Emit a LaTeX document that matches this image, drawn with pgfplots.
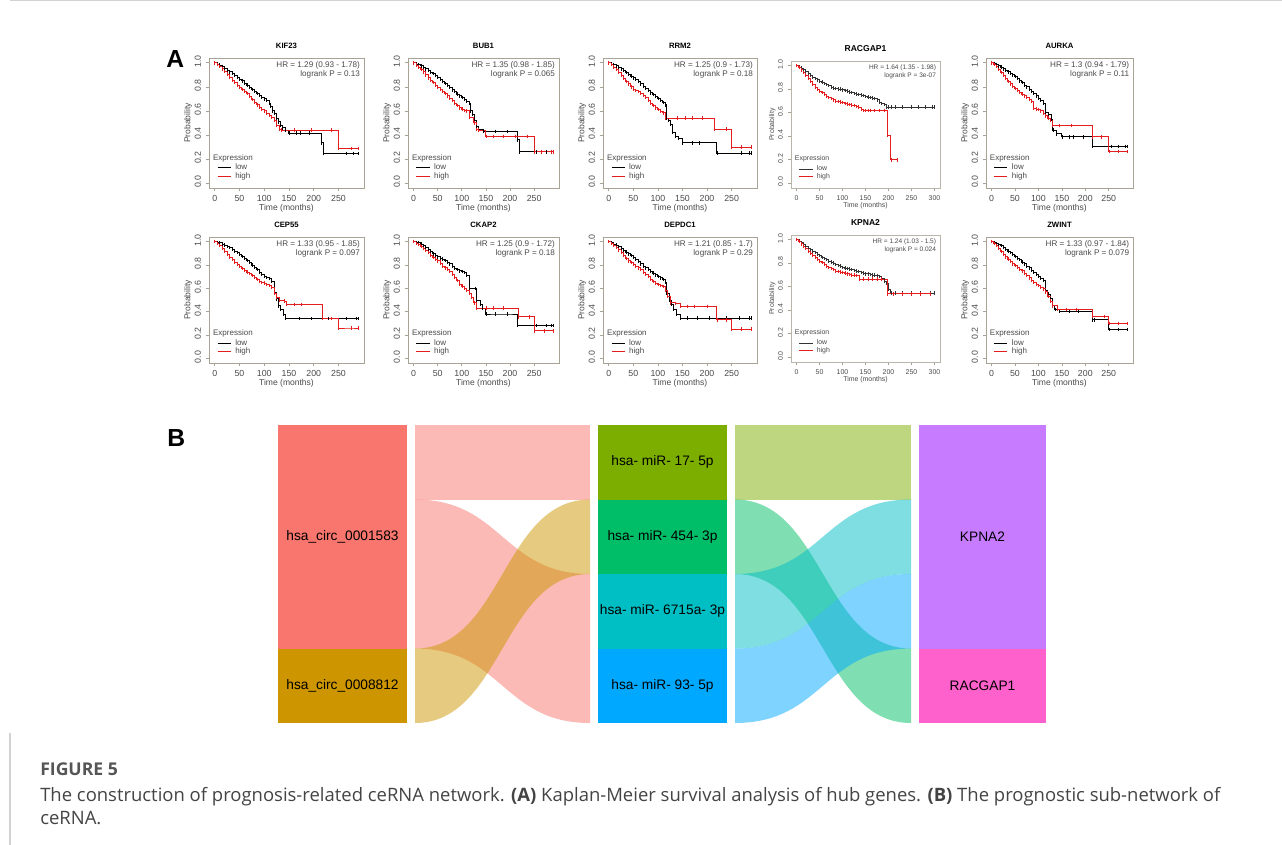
\documentclass[border=0pt]{standalone}
\usepackage{fontspec}
\setmainfont{Liberation Sans}
\newfontfamily\capfont{Open Sans}
\usepackage{pgfplots}
\pgfplotsset{compat=1.18}
\definecolor{cA}{HTML}{F8766D}
\definecolor{cB}{HTML}{CD9600}
\definecolor{cC}{HTML}{7CAE00}
\definecolor{cD}{HTML}{00BE67}
\definecolor{cE}{HTML}{00BFC4}
\definecolor{cF}{HTML}{00A9FF}
\definecolor{cG}{HTML}{C77CFF}
\definecolor{cH}{HTML}{FF61CC}
\definecolor{kmbox}{HTML}{A8A395}
\definecolor{kmtxt}{HTML}{4A4A4A}
\definecolor{kmred}{HTML}{E41E1E}
\definecolor{captxt}{HTML}{444444}
\definecolor{capgray}{HTML}{555555}
\newcommand{\kmtick}{\fontsize{6.6}{7}\selectfont}
\newcommand{\kmlab}{\fontsize{6.4}{7}\selectfont}
\newcommand{\kmleg}{\fontsize{6}{6.5}\selectfont}
\newcommand{\kmhr}{\fontsize{6.1}{7}\selectfont}
\newcommand{\kmtitle}{\fontsize{5.8}{6}\selectfont\bfseries}
\newcommand{\kmtickS}{\fontsize{5.2}{6}\selectfont}
\newcommand{\kmlabS}{\fontsize{5.2}{6}\selectfont}
\newcommand{\kmlegS}{\fontsize{5.2}{6}\selectfont}
\newcommand{\kmhrS}{\fontsize{4.9}{6}\selectfont}
\newcommand{\kmtitleS}{\fontsize{6.4}{7}\selectfont\bfseries}
\newcommand{\sank}{\fontsize{10.3}{12}\selectfont}
\pgfplotsset{
  km/.style={
    scale only axis, anchor=north west,
    xmin=-11.6, xmax=301.6, ymin=-0.04, ymax=1.04,
    xtick={0,50,100,150,200,250}, ytick={0,0.2,0.4,0.6,0.8,1},
    axis line style={kmbox, line width=0.6pt},
    tick align=outside, xtick pos=bottom, ytick pos=left,
    major tick length=2.5pt, tick style={kmbox, line width=0.5pt},
    /pgf/number format/assume math mode=true,
    ticklabel style={font=\kmtick, text=kmtxt},
    yticklabel style={/pgf/number format/.cd, fixed, fixed zerofill, precision=1, /tikz/.cd, rotate=90, anchor=south, xshift=1pt},
    xticklabel style={yshift=0.5pt},
    xlabel={Time (months)}, ylabel={Probability},
    label style={font=\kmlab, text=kmtxt},
    xlabel style={yshift=5pt},
    ylabel style={yshift=-5pt},
    title style={font=\kmtitle, yshift=-2.5pt},
    legend style={draw=none, fill=none, at={(0.05,0.055)}, anchor=south west, font=\kmleg, text=kmtxt, row sep=-0.5pt, inner sep=0pt, nodes={inner sep=0.4pt}},
    legend cell align=left,
    legend image code/.code={\draw[##1, line width=0.8pt] (0pt,0pt) -- (10pt,0pt); \path (12.5pt,0pt);},
    clip=false,
  },
  km300/.style={km, xmin=-12, xmax=312, xtick={0,50,100,150,200,250,300},
    axis line style={kmbox!80, line width=0.5pt},
    ticklabel style={font=\kmtickS}, label style={font=\kmlabS},
    title style={font=\kmtitleS}, legend style={font=\kmlegS}},
  lowline/.style={const plot, black, line width=0.75pt, mark=|, mark size=1.3pt, mark options={solid, line width=0.4pt}},
  highline/.style={const plot, kmred, line width=0.75pt, mark=|, mark size=1.3pt, mark options={solid, line width=0.4pt}},
  lowlineS/.style={lowline, line width=0.5pt, black!80},
  highlineS/.style={highline, line width=0.5pt},
}
\newcommand{\hr}[2]{\node[anchor=north east, align=right, font=\kmhr, text=kmtxt, inner sep=0pt] at (rel axis cs:0.975,0.975) {#1\\#2};}
\newcommand{\hrS}[2]{\node[anchor=north east, align=right, font=\kmhrS, text=kmtxt, inner sep=0pt] at (rel axis cs:0.975,0.975) {#1\\#2};}
\newcommand{\expr}{\node[anchor=south west, font=\kmleg, text=kmtxt, inner sep=0pt] at (rel axis cs:0.025,0.2) {Expression};}
\newcommand{\exprS}{\node[anchor=south west, font=\kmlegS, text=kmtxt, inner sep=0pt] at (rel axis cs:0.025,0.2) {Expression};}
\begin{document}
\begin{tikzpicture}[x=0.75pt, y=-0.75pt]
\useasboundingbox (0,0) rectangle (1282,845);
\fill[white] (0,0) rectangle (1282,845);
\draw[gray!35, line width=0.8pt] (10,0.6) -- (1282,0.6);
\draw[gray!35, line width=0.8pt] (10,733) -- (10,845);
\node[anchor=base west, inner sep=0, font=\fontsize{18.5}{20}\selectfont\bfseries] at (166,68) {A};
\node[anchor=base west, inner sep=0, font=\fontsize{18.5}{20}\selectfont\bfseries] at (167,446) {B};

% ---------------- Row 1 ----------------
\begin{axis}[km, at={(156.75pt,-43.5pt)}, width=116.25pt, height=97.5pt, title={KIF23}]
\addplot[lowline] coordinates {(0,1)(5,0.99)(10,0.98)(15,0.97)(20,0.955)(25,0.94)(30,0.925)(35,0.91)(40,0.895)(45,0.88)(50,0.865)(55,0.85)(60,0.83)(65,0.815)(70,0.795)(75,0.78)(80,0.76)(85,0.745)(90,0.73)(95,0.715)(100,0.70)(105,0.685)(110,0.665)(113,0.64)(116,0.60)(120,0.58)(124,0.54)(128,0.51)(132,0.48)(136,0.46)(142,0.44)(150,0.415)(165,0.415)(172,0.415)(190,0.415)(215,0.335)(220,0.245)(265,0.245)(280,0.245)(290,0.245)};
\addlegendentry{low}
\addplot[highline] coordinates {(0,1)(5,0.985)(10,0.97)(15,0.95)(20,0.93)(25,0.905)(30,0.88)(35,0.855)(40,0.835)(45,0.815)(50,0.795)(55,0.78)(60,0.765)(65,0.745)(70,0.72)(75,0.695)(80,0.67)(85,0.65)(90,0.63)(95,0.615)(100,0.60)(105,0.58)(110,0.565)(115,0.545)(120,0.52)(125,0.48)(130,0.445)(135,0.44)(160,0.44)(195,0.44)(235,0.44)(250,0.29)(275,0.29)(290,0.29)};
\addlegendentry{high}
\hr{HR = 1.29 (0.93 - 1.78)}{logrank P = 0.13}
\expr
\end{axis}

\begin{axis}[km, at={(306pt,-43.5pt)}, width=113.25pt, height=97.5pt, title={BUB1}]
\addplot[lowline] coordinates {(0,1)(5,0.99)(10,0.985)(15,0.975)(20,0.96)(25,0.95)(30,0.935)(35,0.92)(40,0.91)(45,0.895)(50,0.88)(55,0.865)(60,0.845)(65,0.83)(70,0.81)(75,0.795)(80,0.775)(85,0.76)(90,0.74)(95,0.725)(100,0.71)(105,0.695)(110,0.68)(115,0.66)(118,0.60)(122,0.57)(126,0.52)(130,0.47)(135,0.445)(145,0.43)(170,0.43)(195,0.43)(215,0.36)(220,0.26)(255,0.26)(275,0.26)(290,0.26)};
\addlegendentry{low}
\addplot[highline] coordinates {(0,1)(5,0.98)(10,0.965)(15,0.945)(20,0.925)(25,0.90)(30,0.875)(35,0.855)(40,0.835)(45,0.815)(50,0.795)(55,0.78)(60,0.765)(65,0.745)(70,0.725)(75,0.705)(80,0.685)(85,0.665)(90,0.645)(95,0.625)(100,0.615)(105,0.605)(110,0.60)(115,0.545)(125,0.50)(130,0.445)(135,0.44)(150,0.39)(165,0.39)(185,0.39)(210,0.39)(235,0.39)(250,0.26)(265,0.26)(285,0.26)(290,0.26)};
\addlegendentry{high}
\hr{HR = 1.35 (0.98 - 1.85)}{logrank P = 0.065}
\expr
\end{axis}

\begin{axis}[km, at={(452.25pt,-43.5pt)}, width=115.5pt, height=97.5pt, title={RRM2}]
\addplot[lowline] coordinates {(0,1)(5,0.99)(10,0.985)(15,0.975)(20,0.96)(25,0.95)(30,0.935)(35,0.92)(40,0.905)(45,0.89)(50,0.875)(55,0.86)(60,0.845)(65,0.825)(70,0.805)(75,0.79)(80,0.77)(85,0.75)(90,0.735)(95,0.72)(100,0.705)(105,0.69)(110,0.67)(115,0.65)(117,0.54)(122,0.52)(126,0.49)(130,0.42)(135,0.39)(142,0.37)(150,0.335)(170,0.335)(185,0.335)(220,0.25)(270,0.25)(285,0.25)(290,0.25)};
\addlegendentry{low}
\addplot[highline] coordinates {(0,1)(5,0.985)(10,0.965)(15,0.945)(20,0.92)(25,0.895)(30,0.87)(35,0.845)(40,0.825)(45,0.80)(50,0.78)(55,0.77)(60,0.76)(65,0.745)(70,0.73)(75,0.715)(80,0.69)(85,0.665)(90,0.645)(95,0.625)(100,0.61)(105,0.595)(110,0.585)(115,0.54)(140,0.54)(155,0.54)(170,0.54)(190,0.54)(215,0.45)(240,0.45)(250,0.30)(270,0.30)(290,0.30)};
\addlegendentry{high}
\hr{HR = 1.25 (0.9 - 1.73)}{logrank P = 0.18}
\expr
\end{axis}

\begin{axis}[km300, at={(593.25pt,-45.75pt)}, width=111.75pt, height=95.25pt, title={RACGAP1}]
\addplot[lowlineS] coordinates {(0,1)(5,0.99)(10,0.98)(15,0.965)(20,0.95)(25,0.935)(30,0.92)(35,0.905)(40,0.89)(45,0.88)(50,0.87)(55,0.86)(60,0.85)(65,0.84)(70,0.83)(75,0.82)(80,0.81)(85,0.805)(90,0.80)(95,0.80)(100,0.795)(105,0.79)(110,0.785)(115,0.775)(120,0.77)(125,0.765)(130,0.76)(135,0.755)(140,0.75)(145,0.745)(150,0.74)(155,0.735)(160,0.73)(165,0.725)(170,0.72)(175,0.71)(180,0.69)(185,0.68)(190,0.67)(195,0.65)(200,0.65)(205,0.65)(215,0.65)(230,0.65)(250,0.65)(265,0.65)(280,0.65)(295,0.65)(300,0.65)};
\addlegendentry{low}
\addplot[highlineS] coordinates {(0,1)(5,0.985)(10,0.965)(15,0.94)(20,0.915)(25,0.89)(30,0.865)(35,0.84)(40,0.815)(45,0.80)(50,0.785)(55,0.77)(60,0.755)(65,0.74)(70,0.73)(75,0.72)(80,0.71)(85,0.70)(90,0.695)(95,0.69)(100,0.685)(105,0.68)(110,0.675)(115,0.67)(120,0.665)(125,0.66)(130,0.655)(135,0.65)(140,0.63)(145,0.62)(150,0.62)(155,0.62)(160,0.62)(170,0.62)(180,0.62)(190,0.62)(197,0.41)(205,0.20)(218,0.20)};
\addlegendentry{high}
\hrS{HR = 1.64 (1.35 - 1.98)}{logrank P = 3e-07}
\exprS
\end{axis}

\begin{axis}[km, at={(739.5pt,-43.5pt)}, width=110.25pt, height=97.5pt, title={AURKA}]
\addplot[lowline] coordinates {(0,1)(5,0.995)(10,0.985)(15,0.975)(20,0.965)(25,0.95)(30,0.94)(35,0.925)(40,0.91)(45,0.90)(50,0.885)(55,0.87)(60,0.85)(65,0.835)(70,0.815)(75,0.80)(80,0.78)(85,0.765)(90,0.745)(95,0.725)(100,0.705)(105,0.685)(110,0.665)(115,0.59)(122,0.57)(127,0.53)(131,0.44)(138,0.41)(150,0.385)(165,0.385)(175,0.385)(195,0.385)(215,0.305)(255,0.305)(270,0.305)(285,0.305)(290,0.305)};
\addlegendentry{low}
\addplot[highline] coordinates {(0,1)(5,0.985)(10,0.97)(15,0.945)(20,0.92)(25,0.895)(30,0.87)(35,0.845)(40,0.825)(45,0.805)(50,0.785)(55,0.77)(60,0.755)(65,0.74)(70,0.725)(75,0.71)(80,0.695)(85,0.68)(90,0.62)(95,0.615)(100,0.61)(105,0.60)(110,0.58)(115,0.56)(120,0.54)(125,0.52)(130,0.48)(145,0.48)(170,0.48)(215,0.385)(235,0.385)(250,0.265)(270,0.265)(290,0.265)};
\addlegendentry{high}
\hr{HR = 1.3 (0.94 - 1.79)}{logrank P = 0.11}
\expr
\end{axis}

% ---------------- Row 2 ----------------
\begin{axis}[km, at={(156.75pt,-177.75pt)}, width=116.25pt, height=94.5pt, title={CEP55}]
\addplot[lowline] coordinates {(0,1)(5,0.995)(10,0.99)(15,0.98)(20,0.97)(25,0.96)(30,0.95)(35,0.935)(40,0.92)(45,0.905)(50,0.89)(55,0.875)(60,0.86)(65,0.84)(70,0.82)(75,0.80)(80,0.78)(85,0.76)(90,0.74)(95,0.72)(100,0.705)(105,0.695)(110,0.685)(115,0.66)(120,0.565)(124,0.51)(128,0.45)(133,0.42)(138,0.38)(143,0.34)(170,0.34)(195,0.34)(230,0.34)(265,0.34)(285,0.34)(290,0.34)};
\addlegendentry{low}
\addplot[highline] coordinates {(0,1)(5,0.985)(10,0.965)(15,0.94)(20,0.915)(25,0.89)(30,0.865)(35,0.845)(40,0.825)(45,0.805)(50,0.785)(55,0.77)(60,0.755)(65,0.74)(70,0.725)(75,0.71)(80,0.695)(85,0.675)(90,0.66)(95,0.65)(100,0.645)(105,0.635)(110,0.625)(115,0.61)(120,0.56)(125,0.52)(130,0.50)(140,0.49)(145,0.46)(160,0.46)(175,0.46)(218,0.34)(235,0.34)(250,0.26)(275,0.26)(290,0.26)};
\addlegendentry{high}
\hr{HR = 1.33 (0.95 - 1.85)}{logrank P = 0.097}
\expr
\end{axis}

\begin{axis}[km, at={(306pt,-177.75pt)}, width=113.25pt, height=94.5pt, title={CKAP2}]
\addplot[lowline] coordinates {(0,1)(5,0.995)(10,0.99)(15,0.98)(20,0.965)(25,0.95)(30,0.935)(35,0.915)(40,0.895)(45,0.88)(50,0.87)(55,0.86)(60,0.85)(65,0.84)(70,0.825)(75,0.81)(80,0.785)(85,0.77)(90,0.76)(95,0.75)(100,0.745)(105,0.735)(110,0.71)(115,0.60)(127,0.60)(130,0.50)(138,0.46)(143,0.43)(150,0.38)(170,0.38)(195,0.38)(215,0.28)(255,0.28)(275,0.28)(285,0.28)(290,0.28)};
\addlegendentry{low}
\addplot[highline] coordinates {(0,1)(5,0.985)(10,0.975)(15,0.96)(20,0.94)(25,0.925)(30,0.905)(35,0.885)(40,0.865)(45,0.85)(50,0.835)(55,0.815)(60,0.79)(65,0.775)(70,0.76)(75,0.745)(80,0.72)(85,0.695)(90,0.665)(95,0.635)(100,0.62)(105,0.60)(110,0.585)(115,0.56)(120,0.52)(125,0.475)(130,0.43)(150,0.43)(165,0.43)(185,0.43)(218,0.355)(240,0.355)(250,0.235)(270,0.235)(290,0.235)};
\addlegendentry{high}
\hr{HR = 1.25 (0.9 - 1.72)}{logrank P = 0.18}
\expr
\end{axis}

\begin{axis}[km, at={(452.25pt,-177.75pt)}, width=115.5pt, height=94.5pt, title={DEPDC1}]
\addplot[lowline] coordinates {(0,1)(5,0.99)(10,0.98)(15,0.97)(20,0.955)(25,0.94)(30,0.925)(35,0.91)(40,0.895)(45,0.88)(50,0.865)(55,0.85)(60,0.83)(65,0.81)(70,0.79)(75,0.775)(80,0.76)(85,0.745)(90,0.73)(95,0.715)(100,0.70)(105,0.69)(110,0.675)(115,0.65)(118,0.56)(123,0.50)(127,0.46)(131,0.42)(138,0.38)(145,0.345)(160,0.345)(180,0.345)(205,0.345)(240,0.345)(265,0.345)(285,0.345)(290,0.345)};
\addlegendentry{low}
\addplot[highline] coordinates {(0,1)(5,0.985)(10,0.97)(15,0.95)(20,0.93)(25,0.905)(30,0.88)(35,0.855)(40,0.835)(45,0.82)(50,0.805)(55,0.79)(60,0.775)(65,0.76)(70,0.74)(75,0.72)(80,0.70)(85,0.68)(90,0.66)(95,0.645)(100,0.635)(105,0.625)(110,0.615)(115,0.58)(120,0.53)(125,0.475)(135,0.47)(145,0.445)(160,0.445)(175,0.445)(200,0.445)(220,0.33)(240,0.33)(250,0.25)(270,0.25)(290,0.25)};
\addlegendentry{high}
\hr{HR = 1.21 (0.85 - 1.7)}{logrank P = 0.29}
\expr
\end{axis}

\begin{axis}[km300, at={(593.25pt,-176.25pt)}, width=111.75pt, height=95.25pt, title={KPNA2}]
\addplot[lowlineS] coordinates {(0,1)(5,0.99)(10,0.975)(15,0.96)(20,0.945)(25,0.93)(30,0.915)(35,0.90)(40,0.89)(45,0.875)(50,0.865)(55,0.85)(60,0.84)(65,0.83)(70,0.82)(75,0.81)(80,0.80)(85,0.79)(90,0.78)(95,0.775)(100,0.765)(105,0.76)(110,0.755)(115,0.75)(120,0.745)(125,0.74)(130,0.735)(135,0.73)(140,0.72)(145,0.715)(150,0.71)(155,0.71)(160,0.705)(165,0.70)(170,0.70)(175,0.695)(180,0.685)(185,0.67)(190,0.65)(195,0.63)(200,0.58)(205,0.545)(215,0.545)(230,0.545)(250,0.545)(270,0.545)(290,0.545)(300,0.545)};
\addlegendentry{low}
\addplot[highlineS] coordinates {(0,1)(5,0.985)(10,0.965)(15,0.945)(20,0.925)(25,0.905)(30,0.885)(35,0.865)(40,0.85)(45,0.835)(50,0.82)(55,0.805)(60,0.79)(65,0.775)(70,0.765)(75,0.755)(80,0.745)(85,0.735)(90,0.73)(95,0.725)(100,0.72)(105,0.715)(110,0.71)(115,0.705)(120,0.70)(125,0.70)(130,0.695)(137,0.665)(145,0.665)(155,0.665)(165,0.665)(175,0.665)(185,0.665)(197,0.54)(210,0.54)(230,0.54)(250,0.54)(270,0.54)(290,0.54)};
\addlegendentry{high}
\hrS{HR = 1.24 (1.03 - 1.5)}{logrank P = 0.024}
\exprS
\end{axis}

\begin{axis}[km, at={(739.5pt,-177.75pt)}, width=110.25pt, height=94.5pt, title={ZWINT}]
\addplot[lowline] coordinates {(0,1)(5,0.995)(10,0.985)(15,0.975)(20,0.965)(25,0.95)(30,0.935)(35,0.92)(40,0.905)(45,0.89)(50,0.875)(55,0.86)(60,0.845)(65,0.825)(70,0.81)(75,0.79)(80,0.775)(85,0.755)(90,0.74)(95,0.72)(100,0.705)(105,0.685)(110,0.665)(115,0.58)(120,0.55)(125,0.51)(130,0.45)(135,0.42)(145,0.40)(165,0.40)(185,0.40)(215,0.33)(220,0.33)(250,0.245)(270,0.245)(290,0.245)};
\addlegendentry{low}
\addplot[highline] coordinates {(0,1)(5,0.985)(10,0.965)(15,0.94)(20,0.915)(25,0.89)(30,0.87)(35,0.85)(40,0.83)(45,0.81)(50,0.795)(55,0.78)(60,0.765)(65,0.75)(70,0.73)(75,0.71)(80,0.69)(85,0.67)(90,0.65)(95,0.635)(100,0.625)(105,0.61)(110,0.595)(115,0.57)(120,0.53)(125,0.49)(130,0.45)(140,0.42)(160,0.42)(180,0.42)(215,0.36)(240,0.36)(250,0.30)(270,0.30)(290,0.30)};
\addlegendentry{high}
\hr{HR = 1.33 (0.97 - 1.84)}{logrank P = 0.079}
\expr
\end{axis}

% ---------------- Panel B: Sankey ----------------
\begin{axis}[at={(208.5pt,-318.75pt)}, anchor=north west, scale only axis, width=576pt, height=223.5pt,
  xmin=278, xmax=1046, ymin=0, ymax=4, y dir=reverse, hide axis, clip=false]
% nodes
\addplot[fill=cA, draw=none] coordinates {(278,0) (407,0) (407,3) (278,3)} -- cycle;
\addplot[fill=cB, draw=none] coordinates {(278,3) (407,3) (407,4) (278,4)} -- cycle;
\addplot[fill=cC, draw=none] coordinates {(598,0) (727,0) (727,1) (598,1)} -- cycle;
\addplot[fill=cD, draw=none] coordinates {(598,1) (727,1) (727,2) (598,2)} -- cycle;
\addplot[fill=cE, draw=none] coordinates {(598,2) (727,2) (727,3) (598,3)} -- cycle;
\addplot[fill=cF, draw=none] coordinates {(598,3) (727,3) (727,4) (598,4)} -- cycle;
\addplot[fill=cG, draw=none] coordinates {(919,0) (1046,0) (1046,3) (919,3)} -- cycle;
\addplot[fill=cH, draw=none] coordinates {(919,3) (1046,3) (1046,4) (919,4)} -- cycle;
% flows circRNA -> miRNA
\addplot[fill=cA, fill opacity=0.5, draw=none] coordinates {(415,0) (590,0) (590,1) (415,1)} -- cycle;
\fill[cA, fill opacity=0.5] (axis cs:415,1) .. controls (axis cs:502.5,1) and (axis cs:502.5,2) .. (axis cs:590,2) -- (axis cs:590,4) .. controls (axis cs:502.5,4) and (axis cs:502.5,3) .. (axis cs:415,3) -- cycle;
\fill[cB, fill opacity=0.5] (axis cs:415,3) .. controls (axis cs:502.5,3) and (axis cs:502.5,1) .. (axis cs:590,1) -- (axis cs:590,2) .. controls (axis cs:502.5,2) and (axis cs:502.5,4) .. (axis cs:415,4) -- cycle;
% flows miRNA -> mRNA
\addplot[fill=cC, fill opacity=0.5, draw=none] coordinates {(735,0) (911,0) (911,1) (735,1)} -- cycle;
\fill[cD, fill opacity=0.5] (axis cs:735,1) .. controls (axis cs:823,1) and (axis cs:823,3) .. (axis cs:911,3) -- (axis cs:911,4) .. controls (axis cs:823,4) and (axis cs:823,2) .. (axis cs:735,2) -- cycle;
\fill[cE, fill opacity=0.5] (axis cs:735,2) .. controls (axis cs:823,2) and (axis cs:823,1) .. (axis cs:911,1) -- (axis cs:911,2) .. controls (axis cs:823,2) and (axis cs:823,3) .. (axis cs:735,3) -- cycle;
\fill[cF, fill opacity=0.5] (axis cs:735,3) .. controls (axis cs:823,3) and (axis cs:823,2) .. (axis cs:911,2) -- (axis cs:911,3) .. controls (axis cs:823,3) and (axis cs:823,4) .. (axis cs:735,4) -- cycle;
% labels
\node[font=\sank] at (axis cs:342.5,1.5) {hsa\_circ\_0001583};
\node[font=\sank] at (axis cs:342.5,3.5) {hsa\_circ\_0008812};
\node[font=\sank] at (axis cs:662.5,0.5) {hsa- miR- 17- 5p};
\node[font=\sank] at (axis cs:662.5,1.5) {hsa- miR- 454- 3p};
\node[font=\sank] at (axis cs:662.5,2.5) {hsa- miR- 6715a- 3p};
\node[font=\sank] at (axis cs:662.5,3.5) {hsa- miR- 93- 5p};
\node[font=\sank] at (axis cs:982.5,1.5) {KPNA2};
\node[font=\sank] at (axis cs:982.5,3.5) {RACGAP1};
\end{axis}

% ---------------- Caption ----------------
\node[anchor=base west, inner sep=0, font=\capfont\fontsize{13.2}{15}\selectfont\bfseries, text=capgray] at (40,775) {FIGURE 5};
\node[anchor=base west, inner sep=0, font=\capfont\fontsize{13.85}{15}\selectfont, text=captxt] at (40,801) {The construction of prognosis-related ceRNA network. \textbf{(A)} Kaplan-Meier survival analysis of hub genes. \textbf{(B)} The prognostic sub-network of};
\node[anchor=base west, inner sep=0, font=\capfont\fontsize{13.85}{15}\selectfont, text=captxt] at (40,824) {ceRNA.};
\end{tikzpicture}
\end{document}
